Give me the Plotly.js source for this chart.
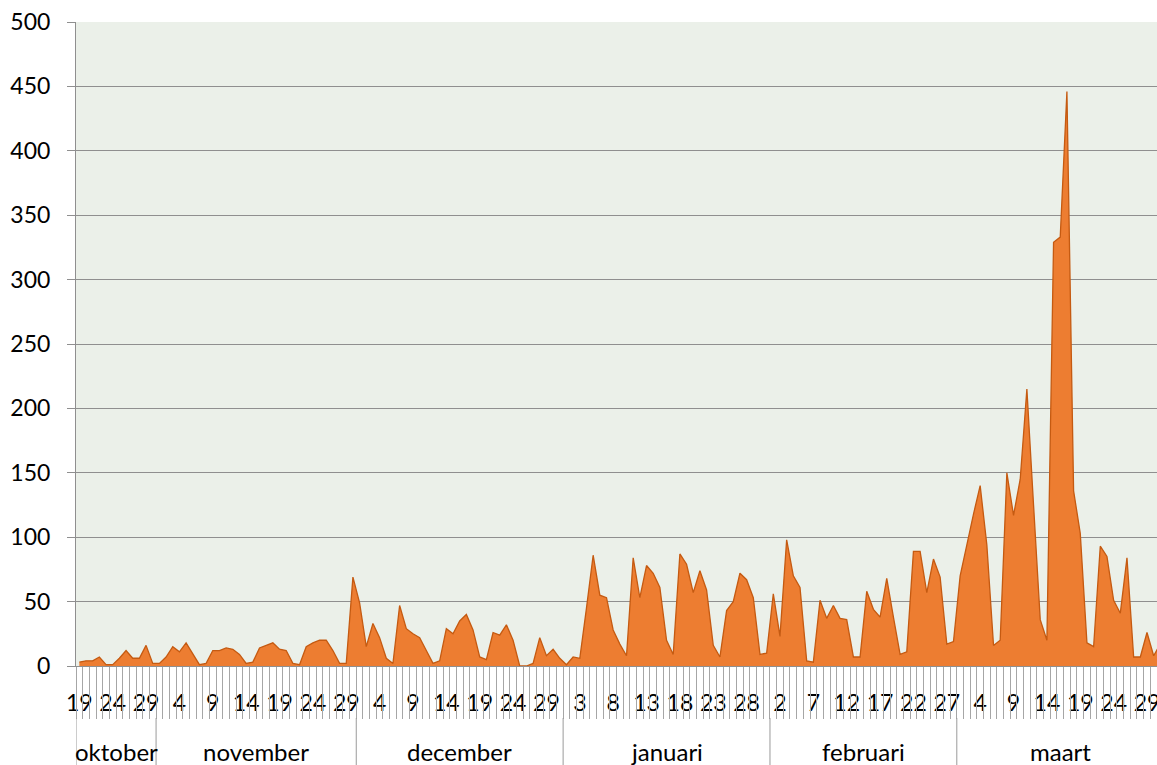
<!DOCTYPE html>
<html>
<head>
<meta charset="utf-8">
<script src="https://cdn.plot.ly/plotly-3.0.1.min.js"></script>
<style>html,body{margin:0;padding:0;background:#fff;}#chart{width:1157px;height:765px;}</style>
</head>
<body>
<div id="chart"></div>
<script>
// Month groups (Dutch): first and last day present in the data
const monthNames = ['oktober', 'november', 'december', 'januari', 'februari', 'maart'];
const monthFirstDay = [19, 1, 1, 1, 1, 1];
const monthLastDay = [30, 30, 31, 31, 28, 31];

// Daily values
const octValues = [3, 4, 4, 7, 1, 1, 6, 12, 6, 6, 16, 2];
const novValues = [2, 7, 15, 11, 18, 10, 1, 2, 12, 12, 14, 13, 9, 2, 3, 14, 16, 18, 13, 12, 2, 1, 15, 18, 20, 20, 12, 2, 2, 69];
const decValues = [49, 15, 33, 22, 6, 2, 47, 29, 25, 22, 12, 2, 4, 29, 25, 35, 40, 28, 7, 5, 26, 24, 32, 20, 0, 0, 2, 22, 8, 13, 6];
const janValues = [1, 7, 6, 45, 86, 55, 53, 28, 17, 8, 84, 53, 78, 72, 61, 20, 9, 87, 79, 57, 74, 59, 16, 7, 43, 50, 72, 67, 53, 9, 10];
const febValues = [56, 23, 98, 70, 61, 4, 3, 51, 37, 47, 37, 36, 7, 7, 58, 44, 38, 68, 38, 9, 11, 89, 89, 57, 83, 69, 17, 19];
const marValues = [70, 95, 118, 140, 94, 16, 20, 150, 117, 145, 215, 125, 36, 20, 329, 333, 446, 136, 103, 18, 15, 93, 85, 51, 41, 84, 7, 7, 26, 8, 17];

const yTicks = [0, 50, 100, 150, 200, 250, 300, 350, 400, 450, 500];
const labelEvery = 5;

// ---- build category data ----
const monthValues = [octValues, novValues, decValues, janValues, febValues, marValues];
const values = [].concat(...monthValues);
const dayNums = [];
const monthStartIdx = [];
monthNames.forEach((m, k) => {
  monthStartIdx.push(dayNums.length);
  for (let d = monthFirstDay[k]; d <= monthLastDay[k]; d++) dayNums.push(d);
});
const idx = values.map((_, i) => i);
const tickVals = idx.filter(i => i % labelEvery === 0);
const tickText = tickVals.map(i => String(dayNums[i]));

const font = 'Lato, "Open Sans", sans-serif';
const gray = '#8f8f8f';

const annotations = monthNames.map((m, k) => {
  const s = monthStartIdx[k];
  const e = s + monthValues[k].length - 1;
  return {
    x: (s + e) / 2, xref: 'x', y: 0, yref: 'paper', yshift: -85, yanchor: 'middle',
    text: m, showarrow: false, font: {family: font, size: 24, color: '#000'}
  };
});
const boundaries = monthStartIdx.map(s => s - 0.5);
const plotH = 765 - 22 - 99;
const shapes = boundaries.map(b => ({
  type: 'line', xref: 'x', yref: 'paper', x0: b, x1: b,
  y0: -52 / plotH, y1: -110 / plotH, line: {color: '#9a9a9a', width: 1}
}));

const xRange = [-0.5, 161.5];

const traces = [
  {
    type: 'scatter', mode: 'lines', x: idx, y: values, fill: 'tozeroy',
    fillcolor: '#ED7D31', line: {color: '#C55A11', width: 1.3}, hoverinfo: 'y', showlegend: false
  },
  {
    type: 'scatter', mode: 'none', x: [0], y: [0], xaxis: 'x2', yaxis: 'y', hoverinfo: 'skip', showlegend: false
  }
];

const layout = {
  width: 1157, height: 765,
  margin: {l: 76, r: 0, t: 22, b: 99},
  paper_bgcolor: '#ffffff',
  plot_bgcolor: '#EBF0E9',
  showlegend: false,
  xaxis: {
    range: xRange, tickmode: 'array', tickvals: tickVals, ticktext: tickText,
    ticks: 'outside', ticklen: 16, tickcolor: 'rgba(0,0,0,0)', ticklabeloverflow: 'allow',
    tickfont: {family: font, size: 23, color: '#000'},
    showgrid: false, zeroline: false, showline: true, linecolor: gray, linewidth: 1
  },
  xaxis2: {
    range: xRange, overlaying: 'x', anchor: 'y', side: 'bottom',
    tickmode: 'linear', tick0: -0.5, dtick: 1,
    ticks: 'outside', ticklen: 52, tickcolor: '#a6a6a6', tickwidth: 1,
    showticklabels: false, showgrid: false, zeroline: false, showline: false
  },
  yaxis: {
    range: [0, 500], tickmode: 'array', tickvals: yTicks,
    ticks: 'outside', ticklen: 8, tickcolor: gray, ticklabelstandoff: 12,
    tickfont: {family: font, size: 23, color: '#000'},
    showgrid: true, gridcolor: gray, gridwidth: 1,
    zeroline: false, showline: true, linecolor: gray, linewidth: 1
  },
  annotations: annotations,
  shapes: shapes
};

Plotly.newPlot('chart', traces, layout, {displayModeBar: false, staticPlot: true});
</script>
</body>
</html>
